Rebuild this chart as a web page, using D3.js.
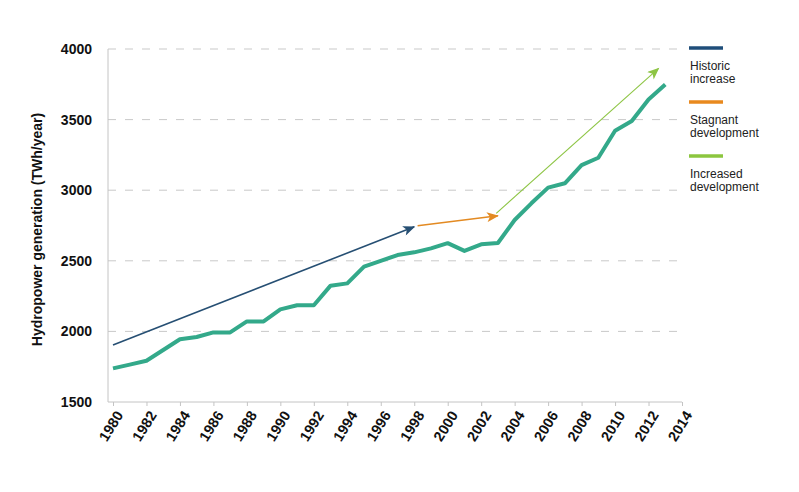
<!DOCTYPE html>
<html>
<head>
<meta charset="utf-8">
<script src="https://cdn.jsdelivr.net/npm/d3@7/dist/d3.min.js"></script>
<style>
  html, body { margin: 0; padding: 0; background: #fff; }
  svg { display: block; font-family: "Liberation Sans", Arial, Helvetica, sans-serif; }
</style>
</head>
<body>
<svg id="chart" width="799" height="492"></svg>
<script>
const years = [1980,1981,1982,1983,1984,1985,1986,1987,1988,1989,1990,1991,1992,1993,1994,1995,1996,1997,1998,1999,2000,2001,2002,2003,2004,2005,2006,2007,2008,2009,2010,2011,2012,2013];
const generation = [1738,1765,1792,1868,1944,1960,1993,1993,2071,2071,2156,2185,2185,2324,2340,2459,2499,2541,2560,2588,2625,2570,2617,2626,2789,2907,3018,3049,3178,3230,3421,3490,3643,3749];
const xTicks = [1980,1982,1984,1986,1988,1990,1992,1994,1996,1998,2000,2002,2004,2006,2008,2010,2012,2014];
const yTicks = [1500,2000,2500,3000,3500,4000];
const trendNames = ["Historic increase", "Stagnant development", "Increased development"];
const trendStartYear = [1980, 1998.2, 2002.9];
const trendStartValue = [1904, 2748, 2836];
const trendEndYear = [1998, 2003, 2012.6];
const trendEndValue = [2741, 2819, 3863];
const trendColors = ["#264f73", "#e38a22", "#8dc544"];
const legendColors = ["#1f4e7a", "#e8891e", "#8cc63f"];
const legendLines = [["Historic", "increase"], ["Stagnant", "development"], ["Increased", "development"]];
const yTitle = "Hydropower generation (TWh/year)";

const svg = d3.select("#chart");
const x = d3.scaleLinear().domain([1980, 2014]).range([113, 682]);
const y = d3.scaleLinear().domain([1500, 4000]).range([402, 49]);

// gridlines
svg.append("g").selectAll("line").data(yTicks.slice(1)).join("line")
  .attr("x1", 108).attr("x2", 682)
  .attr("y1", d => y(d)).attr("y2", d => y(d))
  .attr("stroke", "#c9c9c9").attr("stroke-width", 1)
  .attr("stroke-dasharray", "8,9");

// y axis
const yAxis = svg.append("g").attr("transform", "translate(108,0)")
  .call(d3.axisLeft(y).tickValues(yTicks).tickSize(0).tickPadding(16).tickFormat(d3.format("d")));
yAxis.select(".domain").attr("stroke", "#c4c4c4").attr("d", `M0,${y(4000)}V${y(1500)}`);
yAxis.selectAll("text").attr("font-size", 14).attr("font-weight", "bold").attr("fill", "#111")
  .attr("font-family", "Liberation Sans, Arial, sans-serif");

// x axis
const xAxis = svg.append("g").attr("transform", "translate(0,402)")
  .call(d3.axisBottom(x).tickValues(xTicks).tickSize(4).tickFormat(d3.format("d")));
xAxis.select(".domain").attr("stroke", "#c4c4c4").attr("d", "M108,0H682");
xAxis.selectAll(".tick line").attr("stroke", "#c4c4c4");
xAxis.selectAll("text")
  .attr("font-size", 14.5).attr("font-weight", "bold").attr("fill", "#111")
  .attr("font-family", "Liberation Sans, Arial, sans-serif")
  .attr("text-anchor", "end")
  .attr("dy", null)
  .attr("transform", "translate(7,11) rotate(-58)")
  .attr("x", 0).attr("y", 0).attr("dominant-baseline", "middle");

// y title
svg.append("text")
  .attr("transform", `translate(42,${(y(4000)+y(1500))/2+4}) rotate(-90)`)
  .attr("text-anchor", "middle")
  .attr("font-size", 14).attr("font-weight", "bold").attr("fill", "#111")
  .text(yTitle);

// data line
svg.append("path")
  .datum(years.map((yr, i) => [yr, generation[i]]))
  .attr("fill", "none").attr("stroke", "#33a98a").attr("stroke-width", 4)
  .attr("stroke-linejoin", "round")
  .attr("d", d3.line().x(d => x(d[0])).y(d => y(d[1])));

// arrow markers
const defs = svg.append("defs");
trendColors.forEach((c, i) => {
  defs.append("marker").attr("id", "arr" + i)
    .attr("viewBox", "0 0 12 10").attr("refX", 11).attr("refY", 5)
    .attr("markerWidth", 13).attr("markerHeight", 10)
    .attr("markerUnits", "userSpaceOnUse").attr("orient", "auto")
    .append("path").attr("d", "M0,0 L12,5 L0,10 L3,5 Z").attr("fill", c);
});
const trendWidths = [1.6, 1.6, 1.1];
svg.append("g").selectAll("line").data(trendNames).join("line")
  .attr("x1", (d, i) => x(trendStartYear[i])).attr("y1", (d, i) => y(trendStartValue[i]))
  .attr("x2", (d, i) => x(trendEndYear[i])).attr("y2", (d, i) => y(trendEndValue[i]))
  .attr("stroke", (d, i) => trendColors[i]).attr("stroke-width", (d, i) => trendWidths[i])
  .attr("marker-end", (d, i) => `url(#arr${i})`);

// legend
const lg = svg.append("g").attr("transform", "translate(689,48)");
trendNames.forEach((n, i) => {
  const g = lg.append("g").attr("transform", `translate(0,${i * 54})`);
  g.append("line").attr("x1", 0).attr("x2", 34).attr("y1", 0).attr("y2", 0)
    .attr("stroke", legendColors[i]).attr("stroke-width", 3.5);
  legendLines[i].forEach((t, j) => {
    g.append("text").attr("x", 1).attr("y", 22 + j * 13)
      .attr("font-size", 12).attr("fill", "#222").text(t);
  });
});
</script>
</body>
</html>
